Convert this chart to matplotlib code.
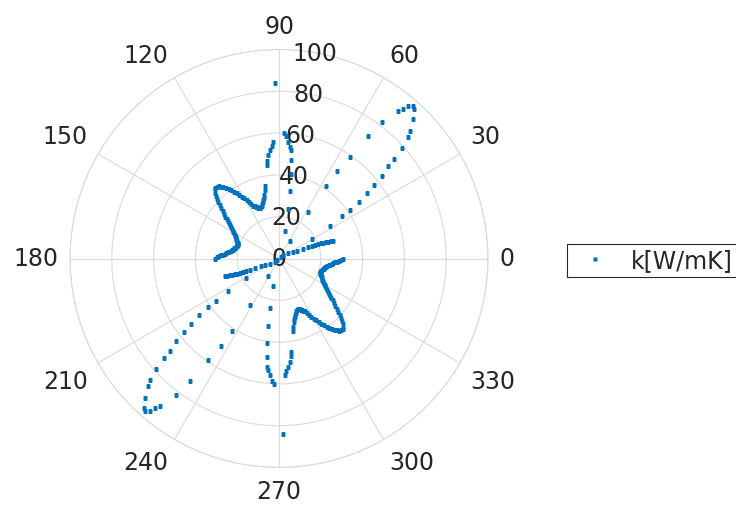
import numpy as np
import matplotlib
matplotlib.use('Agg')
import matplotlib.pyplot as plt

# ---- data: one half of the centro-symmetric curve (angle in deg, k in W/mK)
lobe_theta = [-79, -78, -77, -76, -75, -74, -73, -72, -71, -70, -69, -68, -67, -66,
              -65, -64, -63, -62, -61, -60, -59, -58, -57, -56, -55, -54, -53, -52,
              -51, -50, -49, -48, -47, -46, -45, -44, -43, -42, -41, -40, -39, -38,
              -37, -36, -35, -34, -33, -32, -31, -30, -29, -28, -27, -26, -25, -24,
              -23, -22, -21, -20, -19, -18, -17, -16, -15, -14, -13, -12, -11, -10,
              -9, -8, -7, -6, -5, -4, -3, -2, -1, 0]
lobe_k = [35.5, 33.3, 31.0, 29.8, 28.8, 27.9, 27.1, 26.5, 26.1, 25.9, 25.9, 26.2, 26.6, 27.0,
          27.5, 28.2, 29.2, 30.6, 32.0, 33.3, 34.6, 35.9, 37.3, 38.6, 39.8, 41.0, 42.2, 43.3,
          44.2, 45.0, 45.4, 45.5, 45.2, 43.8, 42.4, 41.1, 39.7, 38.2, 36.6, 35.0, 33.7, 32.5,
          31.3, 30.2, 29.2, 28.3, 27.5, 26.7, 25.9, 25.3, 24.7, 24.1, 23.6, 23.1, 22.7, 22.3,
          22.0, 21.6, 21.3, 21.0, 20.8, 20.7, 20.8, 21.0, 21.3, 21.6, 21.9, 22.2, 22.5, 22.9,
          23.4, 24.0, 24.7, 25.4, 26.1, 26.9, 27.8, 28.8, 29.8, 30.8]

spike_theta = [-82.4, -83.2, -84.2, -85.2, -86.3, -87.2, -88.6]
spike_k = [45, 47, 50, 52, 54, 56, 84]

core_theta = [45, 40, 30, 26, 23.5, 22.5, 22, 21.6, 21.2, 20.7, 20.2, 19.7, 19.3, 18.9, 18.6, 18.3]
core_k = [1.2, 2.5, 4.8, 7.2, 9.5, 12.2, 14.8, 16.8, 18.5, 20.2, 21.4, 22.6, 23.8, 25.0, 26.1, 27.1]

big_theta = [30.8, 32.7, 34.3, 34.5, 35.3, 36.6, 37.6, 38.9, 40.1, 40.8, 41.9, 43.1, 44.3, 46.2,
             47.9, 48.7, 49.6, 50.3, 51.1, 53.0, 54.0, 55.1, 56.2, 56.9, 58.2, 59.0]
big_k = [18.2, 29.0, 36.3, 41.2, 47.1, 52.3, 57.6, 63.1, 68.4, 72.9, 78.9, 84.8, 87.6, 92.5,
         96.5, 97.3, 95.6, 93.0, 90.9, 81.6, 72.6, 59.4, 50.2, 41.2, 26.0, 10.0]

rise_theta = [77, 80, 80.7, 81.7, 82.8, 83.8, 84.5, 85.5, 86.6, 87.5]
rise_k = [13.3, 24, 32.7, 40.7, 47.6, 52, 53.5, 56, 58.7, 60]

theta_ticks = [0, 30, 60, 90, 120, 150, 180, 210, 240, 270, 300, 330]
r_ticks = [0, 20, 40, 60, 80, 100]
series_name = 'k[W/mK]'

half_theta = np.array(lobe_theta + spike_theta + core_theta + big_theta + rise_theta, dtype=float)
half_k = np.array(lobe_k + spike_k + core_k + big_k + rise_k, dtype=float)
theta_all = np.deg2rad(np.concatenate([half_theta, half_theta + 180.0]))
k_all = np.concatenate([half_k, half_k])

BLUE = '#0072BD'
GRID = '#dadada'
TXT = '#262626'
FS = 17

fig = plt.figure(figsize=(7.36, 5.06), dpi=100)
W, H = 736, 506
cx, cy, R = 279, 259.5, 209
ax = fig.add_axes([(cx - R) / W, 1 - (cy + R) / H, 2 * R / W, 2 * R / H], projection='polar')
ax.set_ylim(0, 100)
ax.set_yticks(r_ticks[1:])
ax.set_yticklabels([])
ax.set_xticks(np.deg2rad(theta_ticks))
ax.set_xticklabels([])
ax.grid(True, color=GRID, lw=0.8)
ax.spines['polar'].set_color(GRID)
ax.spines['polar'].set_linewidth(0.8)
ax.tick_params(length=0)

line, = ax.plot(theta_all, k_all, linestyle='none', marker='s', ms=3.5, mec='none',
                color=BLUE, label=series_name, zorder=5)

gap = 8.5  # points
for t in theta_ticks:
    a = np.deg2rad(t)
    c, s = np.cos(a), np.sin(a)
    ha = 'left' if c > 0.1 else ('right' if c < -0.1 else 'center')
    va = 'bottom' if s > 0.1 else ('top' if s < -0.1 else 'center')
    ax.annotate(str(t), xy=(a, 100), xycoords='data', xytext=(gap * c, gap * s),
                textcoords='offset points', ha=ha, va=va, fontsize=FS, color=TXT,
                annotation_clip=False)

for r in r_ticks:
    ax.text(np.deg2rad(80), r, str(r), ha='center', va='center', fontsize=FS, color=TXT, zorder=4)

leg = fig.legend(handles=[line], loc='center left', bbox_to_anchor=(567 / W, 1 - 261.5 / H),
                 fontsize=FS, frameon=True, fancybox=False, framealpha=1, edgecolor=TXT,
                 borderpad=0.2, handlelength=2.0, handletextpad=0.5, borderaxespad=0)
leg.get_frame().set_linewidth(0.8)
for t in leg.get_texts():
    t.set_color(TXT)

fig.savefig('out.png', dpi=100)
